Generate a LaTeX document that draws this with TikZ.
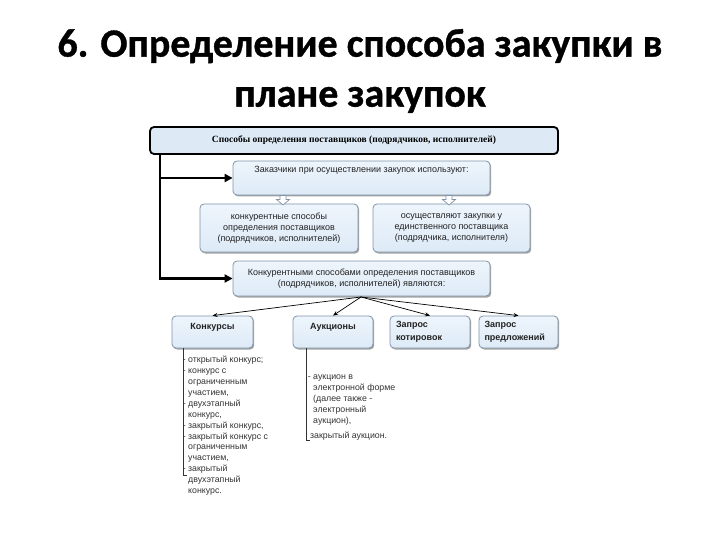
\documentclass[tikz,border=0pt]{standalone}
\usepackage{fontspec}
\setmainfont{Liberation Sans}
\newfontfamily\titlefont{Carlito}[BoldFeatures={FakeBold=0.9}]
\newfontfamily\serifb{Liberation Serif}
\usetikzlibrary{shadows,arrows.meta}
\definecolor{boxfill}{HTML}{DDEAF6}
\definecolor{boxtop}{HTML}{EEF5FC}
\definecolor{boxline}{HTML}{7F93A8}
\definecolor{txt}{HTML}{222222}
\tikzset{
  bluebox/.style={draw=boxline, line width=0.8pt, rounded corners=4pt,
    top color=boxtop, bottom color=boxfill,
    drop shadow={shadow xshift=1.2pt, shadow yshift=-1.5pt, fill=black!45, opacity=0.8},
    inner sep=2pt, font=\fontsize{9}{11}\selectfont, text=txt, align=center},
  headbox/.style={draw=black, line width=1.8pt, rounded corners=4pt, fill=boxfill,
    drop shadow={shadow xshift=1pt, shadow yshift=-1pt, fill=black!25},
    font=\serifb\bfseries\fontsize{9.5}{11}\selectfont},
  fan/.style={-{Stealth[length=5pt,width=4pt]}, line width=0.7pt},
  bigarrow/.style={-{Triangle[length=8pt,width=8pt]}, line width=2.6pt},
  listtxt/.style={anchor=north west, inner sep=0pt, align=left,
    font=\fontsize{8.8}{10.9}\selectfont, text=black!80},
  hollow/.style={draw=boxline, fill=white, line width=0.7pt}
}
\begin{document}
\begin{tikzpicture}[x=1pt,y=-1pt]
\useasboundingbox (0,0) rectangle (720,540);
% title
\node (title) at (360,71) [align=center, font=\titlefont\bfseries\fontsize{40}{50}\selectfont, text=black]
  {6. Определение способа закупки в\\плане закупок};
% header
\node (top) [headbox, minimum width=408pt, minimum height=27pt] at (354,140.5)
  {Способы определения поставщиков (подрядчиков, исполнителей)};
\node (b2) [bluebox, minimum width=257pt, text height=8pt, text depth=18pt, inner ysep=4pt] at (361.5,178)
  {Заказчики при осуществлении закупок используют:};
\node (b3a) [bluebox, minimum width=158pt, minimum height=48pt] at (279,228)
  {конкурентные способы\\определения поставщиков\\(подрядчиков, исполнителей)};
\node (b3b) [bluebox, minimum width=157pt, minimum height=48pt] at (451.5,228)
  {осуществляют закупки у\\единственного поставщика\\(подрядчика, исполнителя)};
\node (b4) [bluebox, minimum width=257pt, minimum height=35pt] at (361.5,278.5)
  {Конкурентными способами определения поставщиков\\(подрядчиков, исполнителей) являются:};
% bottom boxes
\node (k1) [bluebox, minimum width=81pt, text height=8pt, text depth=13pt, inner ysep=5.5pt, font=\bfseries\fontsize{9}{11}\selectfont] at (212.5,332) {Конкурсы};
\node (k2) [bluebox, minimum width=80pt, text height=8pt, text depth=13pt, inner ysep=5.5pt, font=\bfseries\fontsize{9}{11}\selectfont] at (333,332) {Аукционы};
\node (k3) [bluebox, minimum width=80pt, minimum height=32pt, align=left, text width=68pt, font=\bfseries\fontsize{9}{13.5}\selectfont] at (430,332) {Запрос\\котировок};
\node (k4) [bluebox, minimum width=79pt, minimum height=32pt, align=left, text width=68pt, font=\bfseries\fontsize{9}{13.5}\selectfont] at (518.5,332) {Запрос\\предложений};
% hollow arrows
\foreach \xx in {283, 449}{
  \draw[hollow] (\xx-3,195.5) -- (\xx+3,195.5) -- (\xx+3,199.5) -- (\xx+6.5,199.5) -- (\xx,205) -- (\xx-6.5,199.5) -- (\xx-3,199.5) -- cycle;
}
% left connector
\draw[bigarrow] ([xshift=11pt]top.south west) |- (b2.west);
\draw[bigarrow] ([xshift=11pt]top.south west) |- (b4.west);
% fan
\coordinate (fo) at (361,297);
\draw[fan] (fo) -- (k1.north);
\draw[fan] (fo) -- (k2.north);
\draw[fan] (fo) -- (k3.north);
\draw[fan] (fo) -- (k4.north);
% lists
\draw[line width=0.6pt, black!80] ([xshift=12pt]k1.south west) -- ++(0,127) -- ++(3,0);
\node (l1) [listtxt] at (188,356) {\llap{- }открытый конкурс;\\\llap{- }конкурс с\\ограниченным\\участием,\\\llap{- }двухэтапный\\конкурс,\\\llap{- }закрытый конкурс,\\\llap{- }закрытый конкурс с\\ограниченным\\участием,\\\llap{- }закрытый\\двухэтапный\\конкурс.};
\draw[line width=0.6pt, black!80] ([xshift=14pt]k2.south west) -- ++(0,92) -- ++(3,0);
\node (l2) [listtxt] at (313,375) {\llap{- }аукцион в\\электронной форме\\(далее также -\\электронный\\аукцион),\\[4pt]\hspace{-3pt}закрытый аукцион.};
\end{tikzpicture}
\end{document}
